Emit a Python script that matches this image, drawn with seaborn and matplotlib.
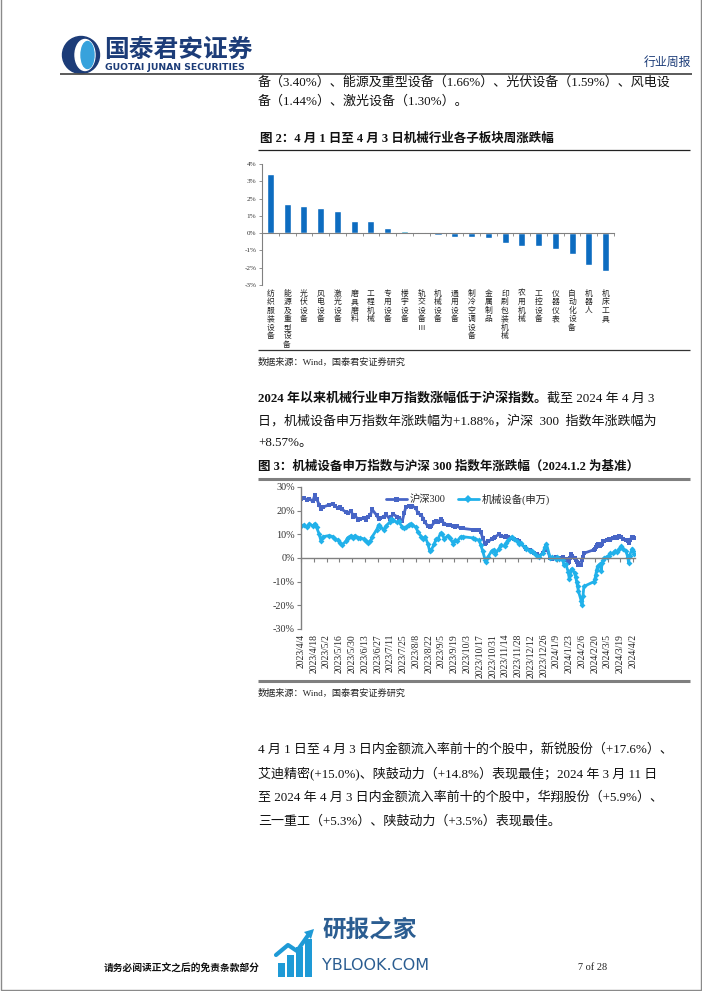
import numpy as np
import pandas as pd
import matplotlib
matplotlib.use("Agg")
import matplotlib.pyplot as plt
import matplotlib.dates as mdates
import matplotlib.transforms as mtransforms
from matplotlib.patches import Circle, Ellipse, Rectangle, Polygon
from matplotlib.lines import Line2D
import seaborn as sns

W, H = 702, 991

# ---------------- data: figure 2 (weekly change by sub-sector, %) ----------------
sectors = ["纺织服装设备", "能源及重型设备", "光伏设备", "风电设备", "激光设备", "磨具磨料",
           "工程机械", "专用设备", "楼宇设备", "轨交设备Ⅲ", "机械设备", "通用设备",
           "制冷空调设备", "金属制品", "印刷包装机械", "农用机械", "工控设备", "仪器仪表",
           "自动化设备", "机器人", "机床工具"]
weekly_change = [3.40, 1.66, 1.59, 1.44, 1.30, 0.72, 0.70, 0.30, 0.12, 0.05, -0.13, -0.20,
                 -0.24, -0.30, -0.58, -0.73, -0.73, -0.93, -1.18, -1.83, -2.18]

# ---------------- data: figure 3 (YTD change, 2024-01-02 = base, %) ----------------
dates = ["2023-04-04", "2023-04-07", "2023-04-11", "2023-04-13", "2023-04-17", "2023-04-19",
         "2023-04-21", "2023-04-24", "2023-04-26", "2023-04-28", "2023-05-05", "2023-05-09",
         "2023-05-11", "2023-05-15", "2023-05-17", "2023-05-19", "2023-05-23", "2023-05-25",
         "2023-05-29", "2023-05-31", "2023-06-02", "2023-06-06", "2023-06-08", "2023-06-12",
         "2023-06-14", "2023-06-16", "2023-06-19", "2023-06-21", "2023-06-26", "2023-06-28",
         "2023-06-30", "2023-07-04", "2023-07-06", "2023-07-10", "2023-07-12", "2023-07-14",
         "2023-07-18", "2023-07-20", "2023-07-24", "2023-07-26", "2023-07-28", "2023-07-31",
         "2023-08-02", "2023-08-04", "2023-08-08", "2023-08-10", "2023-08-14", "2023-08-16",
         "2023-08-18", "2023-08-21", "2023-08-23", "2023-08-25", "2023-08-28", "2023-08-30",
         "2023-09-01", "2023-09-04", "2023-09-06", "2023-09-08", "2023-09-12", "2023-09-14",
         "2023-09-18", "2023-09-20", "2023-09-22", "2023-09-26", "2023-09-28", "2023-10-09",
         "2023-10-12", "2023-10-16", "2023-10-18", "2023-10-20", "2023-10-23", "2023-10-24",
         "2023-10-26", "2023-10-30", "2023-11-01", "2023-11-03", "2023-11-07", "2023-11-09",
         "2023-11-13", "2023-11-15", "2023-11-17", "2023-11-21", "2023-11-23", "2023-11-27",
         "2023-11-29", "2023-12-01", "2023-12-05", "2023-12-07", "2023-12-11", "2023-12-13",
         "2023-12-15", "2023-12-19", "2023-12-21", "2023-12-25", "2023-12-27", "2023-12-29",
         "2024-01-02", "2024-01-04", "2024-01-08", "2024-01-10", "2024-01-12", "2024-01-16",
         "2024-01-17", "2024-01-19", "2024-01-22", "2024-01-23", "2024-01-24", "2024-01-25",
         "2024-01-26", "2024-01-29", "2024-01-30", "2024-01-31", "2024-02-01", "2024-02-02",
         "2024-02-05", "2024-02-06", "2024-02-07", "2024-02-08", "2024-02-19", "2024-02-20",
         "2024-02-21", "2024-02-22", "2024-02-23", "2024-02-26", "2024-02-27", "2024-02-28",
         "2024-02-29", "2024-03-01", "2024-03-04", "2024-03-06", "2024-03-08", "2024-03-11",
         "2024-03-13", "2024-03-15", "2024-03-18", "2024-03-20", "2024-03-22", "2024-03-25",
         "2024-03-27", "2024-03-28", "2024-03-29", "2024-04-01", "2024-04-02", "2024-04-03"]
hs300 = [25, 25.5, 24.5, 25, 24, 26.5, 25, 22.5, 20.5, 21.5, 22.5, 23,
         22, 21, 21.5, 20.5, 19.5, 19, 20, 17.5, 18, 16, 16.5, 17,
         16, 17.5, 18, 20.5, 18, 16.5, 17, 17.5, 18.5, 16.5, 17.5, 18.5,
         17.5, 17, 15.5, 19, 21.5, 22, 21.5, 22, 21, 19, 18, 16.5,
         15, 13.5, 13, 13.5, 15, 15.5, 15, 16.5, 15.5, 14.5, 14, 14,
         13.5, 13, 13.5, 12.5, 12.5, 12, 12, 12, 11, 8.5, 6, 6.5,
         7, 8, 8.5, 9, 10, 9.5, 9, 9.5, 9, 8.5, 8, 7.5,
         7, 6, 4.5, 4, 3.5, 2.5, 2, 1.5, 1, 2, 3.5, 4.5,
         0, -0.5, 0.5, 0, 0, 0.5, -1, -0.5, -2, -1.5, 0, 1.5,
         1, 0, -1, -1.5, -2, -3, -3, -1, 0.5, 2, 3.5, 4,
         4.5, 5.5, 6, 5, 5.5, 6, 7, 7, 7.5, 8, 7.5, 8.5,
         9, 8.5, 9.5, 9, 8, 7.5, 7, 6.5, 7.5, 9, 9, 8.57]
machinery = [13.5, 14, 13, 14.5, 13.5, 14.5, 13, 10, 7, 9, 9.5, 9,
             8, 7.5, 6.5, 5.5, 7, 8.5, 9.5, 8.5, 9.5, 8.5, 8.5, 8,
             7, 6.5, 7, 9, 12, 14, 13, 12, 13.5, 15, 16.5, 16,
             15, 15.5, 13, 12.5, 13, 14, 14.5, 14, 13, 11, 9, 8,
             9, 6, 3, 3.5, 6, 8, 8, 10.5, 10, 8, 9.5, 8.5,
             6, 7.5, 7, 9, 9, 8.5, 8, 7.5, 5.5, 3, -1, -1.5,
             0.5, 3, 3.5, 1.5, 4, 5.5, 5, 6.5, 7.5, 9, 8, 7,
             6, 6.5, 4.5, 4, 3, 3, 2, 1, 0.5, 2, 4.5, 6,
             0, 0.5, -0.5, 0.5, -0.5, -1, -3, -2.5, -6, -9, -7, -5,
             -4.5, -6.5, -8, -10, -12, -14, -18, -20, -16, -12, -10, -9,
             -7, -5, -3.5, -2.5, -5.5, -2, -1, 0, 0.5, 1, 2, 2,
             3, 2.5, 4, 5, 4, 3, 0.5, -2, 1, 4, 3, 1.88]
series_names = ["沪深300", "机械设备(申万)"]
tick_dates = pd.date_range("2023-04-04", "2024-04-02", freq="14D")

# ---------------- style ----------------
sns.set_theme(style="white")
SERIF = ["Liberation Serif", "Noto Sans CJK SC", "DejaVu Sans"]
CJK = ["Noto Sans CJK SC", "DejaVu Sans"]
plt.rcParams["font.family"] = SERIF
plt.rcParams["axes.unicode_minus"] = False

fig = plt.figure(figsize=(W / 100, H / 100), dpi=100)
fig.patch.set_facecolor("white")
bg = fig.add_axes([0, 0, 1, 1], zorder=0)
bg.set_xlim(0, W)
bg.set_ylim(H, 0)
bg.axis("off")

def T(x, y, s, size, weight="normal", color="#111111", ha="left", va="center", family=SERIF):
    return bg.text(x, y, s, fontsize=size, fontweight=weight, color=color, ha=ha, va=va,
                   family=family)

def rule(x0, x1, y, color, lw):
    bg.add_line(Line2D([x0, x1], [y, y], color=color, lw=lw, solid_capstyle="butt"))

# page border
bg.add_patch(Rectangle((0.8, -5), W - 1.6, H - 0.8 + 5, fill=False, ec="#8a8a8a", lw=1.0))

# ---------------- header ----------------
navy = "#1c3c78"
bg.add_patch(Circle((81, 55), 18.5, color=navy))
bg.add_patch(Ellipse((85, 55), 20, 31, color="white"))
bg.add_patch(Ellipse((87.5, 55), 13, 27, color="#37a2dc"))
T(104, 50, "国泰君安证券", 17.8, "bold", navy, family=CJK)
T(105, 67, "GUOTAI JUNAN SECURITIES", 6.7, "bold", navy, family=["DejaVu Sans"])
T(691, 62, "行业周报", 8.6, color="#1c3c78", ha="right", family=CJK)
rule(60, 692, 74, "#4d4d4d", 1.3)

body = 9.4
T(258, 83, "备（3.40%）、能源及重型设备（1.66%）、光伏设备（1.59%）、风电设", body)
T(258, 102, "备（1.44%）、激光设备（1.30%）。", body)

# ---------------- figure 2 ----------------
T(260, 139, "图 2：4 月 1 日至 4 月 3 日机械行业各子板块周涨跌幅", 9.0, "bold")
rule(258, 690, 150, "#222222", 0.9)

ax1 = fig.add_axes([262 / W, 1 - 285 / H, (614 - 262) / W, (285 - 164) / H], zorder=2)
ax1.patch.set_alpha(0)
df1 = pd.DataFrame({"sector": sectors, "change": weekly_change})
bar_colors = {s: ("#2fa6cf" if s == "楼宇设备" else "#0d6cc0") for s in sectors}
sns.barplot(data=df1, x="sector", y="change", hue="sector", palette=bar_colors,
            legend=False, width=0.42, ax=ax1, saturation=1)
ax1.set_ylim(-3, 4)
ax1.set_xlim(-0.5, len(sectors) - 0.5)
ax1.set_yticks(np.arange(-3, 5, 1))
ax1.set_yticklabels([f"{v}%" for v in range(-3, 5)], fontsize=5.2, color="#333333")
ax1.set_xticks(np.arange(len(sectors) + 1) - 0.5)
ax1.set_xticklabels([])
ax1.set_xlabel("")
ax1.set_ylabel("")
for s in ["top", "right"]:
    ax1.spines[s].set_visible(False)
ax1.spines["left"].set_color("#808080")
ax1.spines["left"].set_linewidth(0.8)
ax1.spines["bottom"].set_position(("data", 0))
ax1.spines["bottom"].set_color("#808080")
ax1.spines["bottom"].set_linewidth(0.8)
ax1.tick_params(axis="y", length=2.5, width=0.6, color="#808080", pad=1.5, left=True)
ax1.tick_params(axis="x", length=2.5, width=0.6, color="#808080", bottom=True, direction="out")
tr1 = mtransforms.blended_transform_factory(ax1.transData, ax1.transAxes)
for i, s in enumerate(sectors):
    ax1.text(i, -0.04, "\n".join(s), transform=tr1, ha="center", va="top",
             fontsize=5.6, linespacing=1.08, color="#222222", family=CJK)

rule(258, 690, 350, "#333333", 0.9)
T(258, 362, "数据来源：Wind，国泰君安证券研究", 6.6, color="#222222")

# ---------------- paragraph ----------------
t = T(258, 399, "2024 年以来机械行业申万指数涨幅低于沪深指数。", body, "bold")
fig.canvas.draw()
wpx = t.get_window_extent(fig.canvas.get_renderer()).width
T(258 + wpx, 399, "截至 2024 年 4 月 3", body)
T(258, 421, "日，机械设备申万指数年涨跌幅为+1.88%，沪深  300  指数年涨跌幅为", body)
T(258, 443, "+8.57%。", body)

# ---------------- figure 3 ----------------
T(258, 467, "图 3：机械设备申万指数与沪深 300 指数年涨跌幅（2024.1.2 为基准）", 9.0, "bold")
rule(258, 690, 479, "#7f7f7f", 2.2)

ax2 = fig.add_axes([301 / W, 1 - 629 / H, (635 - 301) / W, (629 - 487) / H], zorder=2)
ax2.patch.set_alpha(0)
df2 = pd.DataFrame({"date": pd.to_datetime(dates), series_names[0]: hs300,
                    series_names[1]: machinery})
colors2 = {series_names[0]: "#4765c6", series_names[1]: "#21b1ea"}
markers2 = {series_names[0]: "s", series_names[1]: "D"}
msizes = {series_names[0]: 3.4, series_names[1]: 3.0}
for name in series_names:
    sns.lineplot(data=df2, x="date", y=name, color=colors2[name], marker=markers2[name],
                 markersize=msizes[name], markeredgewidth=0, linewidth=2.0, ax=ax2,
                 legend=False)
ax2.set_ylim(-30, 30)
ax2.set_xlim(pd.Timestamp("2023-04-04"), pd.Timestamp("2024-04-04"))
ax2.set_yticks(np.arange(-30, 31, 10))
ax2.set_yticklabels([f"{v}%" for v in range(-30, 31, 10)], fontsize=7.3, color="#333333")
ax2.set_xticks(tick_dates)
ax2.set_xticklabels([])
ax2.set_xlabel("")
ax2.set_ylabel("")
for s in ["top", "right"]:
    ax2.spines[s].set_visible(False)
ax2.spines["left"].set_color("#808080")
ax2.spines["left"].set_linewidth(1.0)
ax2.spines["bottom"].set_position(("data", 0))
ax2.spines["bottom"].set_color("#808080")
ax2.spines["bottom"].set_linewidth(1.0)
ax2.tick_params(axis="y", length=3, width=0.8, color="#808080", pad=1.5, left=True)
ax2.tick_params(axis="x", length=3, width=0.8, color="#808080", bottom=True, direction="out")
tr2 = mtransforms.blended_transform_factory(ax2.transData, ax2.transAxes)
for d in tick_dates:
    ax2.text(mdates.date2num(d), -0.035, f"{d.year}/{d.month}/{d.day}", transform=tr2,
             rotation=90, ha="center", va="top", fontsize=6.9, color="#222222")
handles = [Line2D([], [], color=colors2[n], marker=markers2[n], markersize=3.6, lw=2.0,
                  markeredgewidth=0) for n in series_names]
leg = ax2.legend(handles, series_names, loc="upper center", bbox_to_anchor=(0.5, 1.02),
                 ncol=2, frameon=False, handlelength=2.0, handletextpad=0.3,
                 columnspacing=1.2, prop={"family": SERIF, "size": 7.4})

rule(258, 690, 681, "#7f7f7f", 2.2)
T(258, 693, "数据来源：Wind，国泰君安证券研究", 6.6, color="#222222")

# ---------------- paragraph ----------------
T(258, 749, "4 月 1 日至 4 月 3 日内金额流入率前十的个股中，新锐股份（+17.6%）、", body)
T(258, 773, "艾迪精密(+15.0%)、陕鼓动力（+14.8%）表现最佳；2024 年 3 月 11 日", body)
T(258, 797, "至 2024 年 4 月 3 日内金额流入率前十的个股中，华翔股份（+5.9%）、", body)
T(258, 821, "三一重工（+5.3%）、陕鼓动力（+3.5%）表现最佳。", body)

# ---------------- footer ----------------
T(104, 968, "请务必阅读正文之后的免责条款部分", 7.0, "bold")
wm = "#1e9ad6"
for bx, bh in zip([278, 287, 296, 305], [14, 22, 30, 38]):
    bg.add_patch(Rectangle((bx, 977 - bh), 6.5, bh, color=wm, lw=0))
bg.add_line(Line2D([276, 288, 297, 309], [955, 945, 951, 934], color=wm, lw=3))
bg.add_patch(Polygon([[304, 932], [314, 929], [311, 939]], closed=True, color=wm, lw=0))
T(322, 930, "研报之家", 17.0, "bold", "#2b5d91", family=CJK)
T(322, 966, "YBLOOK.COM", 11.5, "normal", "#2b5d91", family=["DejaVu Sans"])
T(578, 968, "7 of 28", 7.4, color="#222222")

fig.savefig("out.png", dpi=100, facecolor="white")
